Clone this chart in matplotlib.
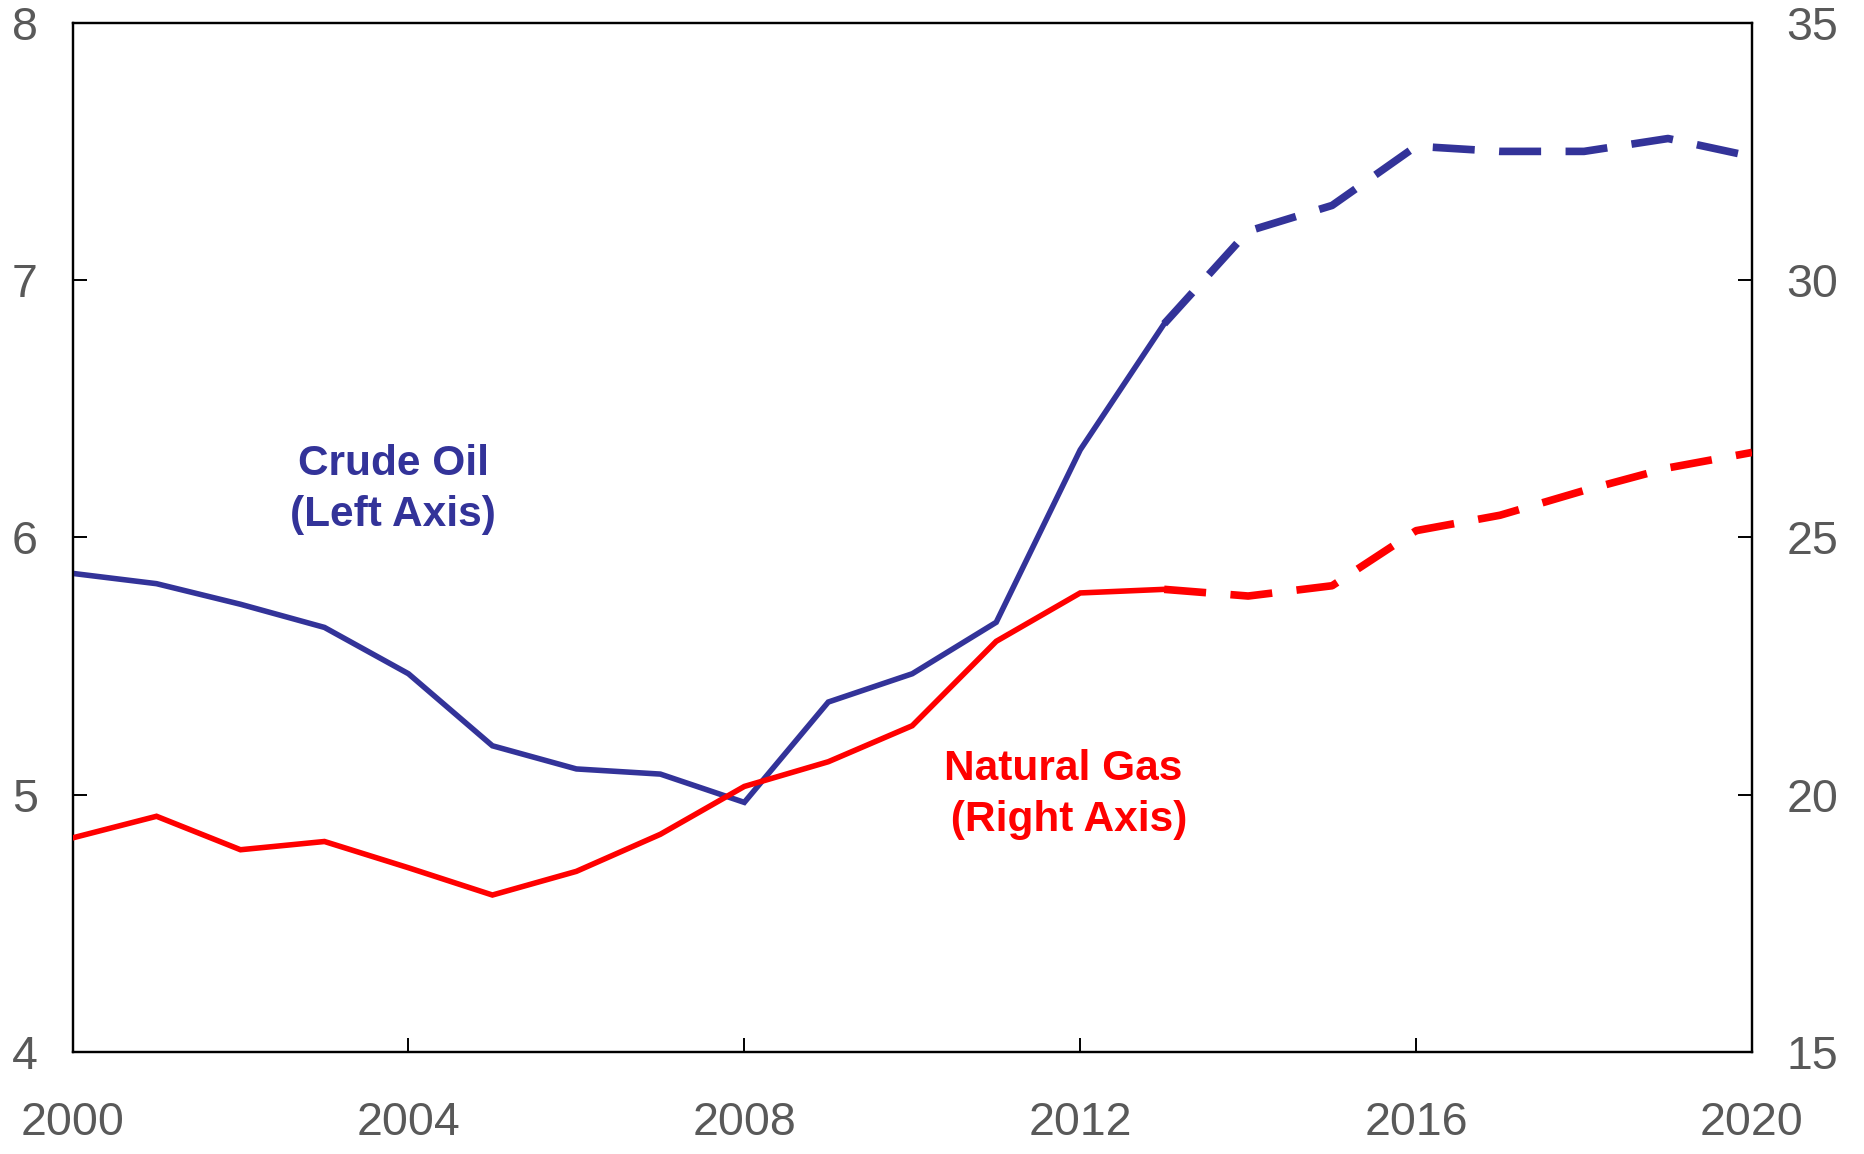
import matplotlib
matplotlib.use("Agg")
import matplotlib.pyplot as plt

plt.rcParams['font.family'] = ['Liberation Sans', 'DejaVu Sans']

years = list(range(2000, 2021))
crude_oil = [5.86, 5.82, 5.74, 5.65, 5.47, 5.19, 5.10, 5.08, 4.97, 5.36, 5.47,
             5.67, 6.34, 6.83, 7.19, 7.29, 7.52, 7.50, 7.50, 7.55, 7.48]
natural_gas = [19.16, 19.58, 18.93, 19.09, 18.58, 18.05, 18.51, 19.23, 20.16, 20.64, 21.34,
               22.98, 23.92, 23.99, 23.86, 24.06, 25.13, 25.43, 25.91, 26.35, 26.65]
split_year = 2013
x_ticks = [2000, 2004, 2008, 2012, 2016, 2020]
left_ticks = [4, 5, 6, 7, 8]
right_ticks = [15, 20, 25, 30, 35]

BLUE = '#333399'
RED = '#ff0000'
TICK_GREY = '#595959'

fig = plt.figure(figsize=(18.65, 11.54), dpi=100)
ax = fig.add_axes([0.0389, 0.0884, 0.9005, 0.8919])
ax2 = ax.twinx()

i = years.index(split_year)
ax.plot(years[:i + 1], crude_oil[:i + 1], color=BLUE, lw=4, solid_joinstyle='miter', zorder=3)
ax.plot(years[i:], crude_oil[i:], color=BLUE, lw=5.5, dashes=(5.5, 3.2), zorder=3)
ax2.plot(years[:i + 1], natural_gas[:i + 1], color=RED, lw=4, solid_joinstyle='miter', zorder=3)
ax2.plot(years[i:], natural_gas[i:], color=RED, lw=5.5, dashes=(5.5, 3.2), zorder=3)

ax.set_xlim(2000, 2020)
ax.set_ylim(4, 8)
ax2.set_ylim(15, 35)
ax.set_xticks(x_ticks)
ax.set_yticks(left_ticks)
ax2.set_yticks(right_ticks)

for a in (ax, ax2):
    for s in a.spines.values():
        s.set_linewidth(1.6)
        s.set_color('black')

ax.tick_params(axis='x', direction='in', length=10, width=1.4, pad=35,
               labelsize=33.5, labelcolor=TICK_GREY, top=False)
ax.tick_params(axis='y', direction='in', length=10, width=1.4, pad=25,
               labelsize=33.5, labelcolor=TICK_GREY, right=False)
ax2.tick_params(axis='y', direction='in', length=10, width=1.4, pad=25,
                labelsize=33.5, labelcolor=TICK_GREY)

ax.text(2003.82, 6.186, "Crude Oil\n(Left Axis)", color=BLUE, fontsize=30.5,
        fontweight='bold', ha='center', va='center', multialignment='center',
        linespacing=1.35)
ax.text(2011.8, 5.0, "Natural Gas\n (Right Axis)", color=RED, fontsize=30.5,
        fontweight='bold', ha='center', va='center', multialignment='center',
        linespacing=1.35)

fig.savefig('out.png', dpi=100)
